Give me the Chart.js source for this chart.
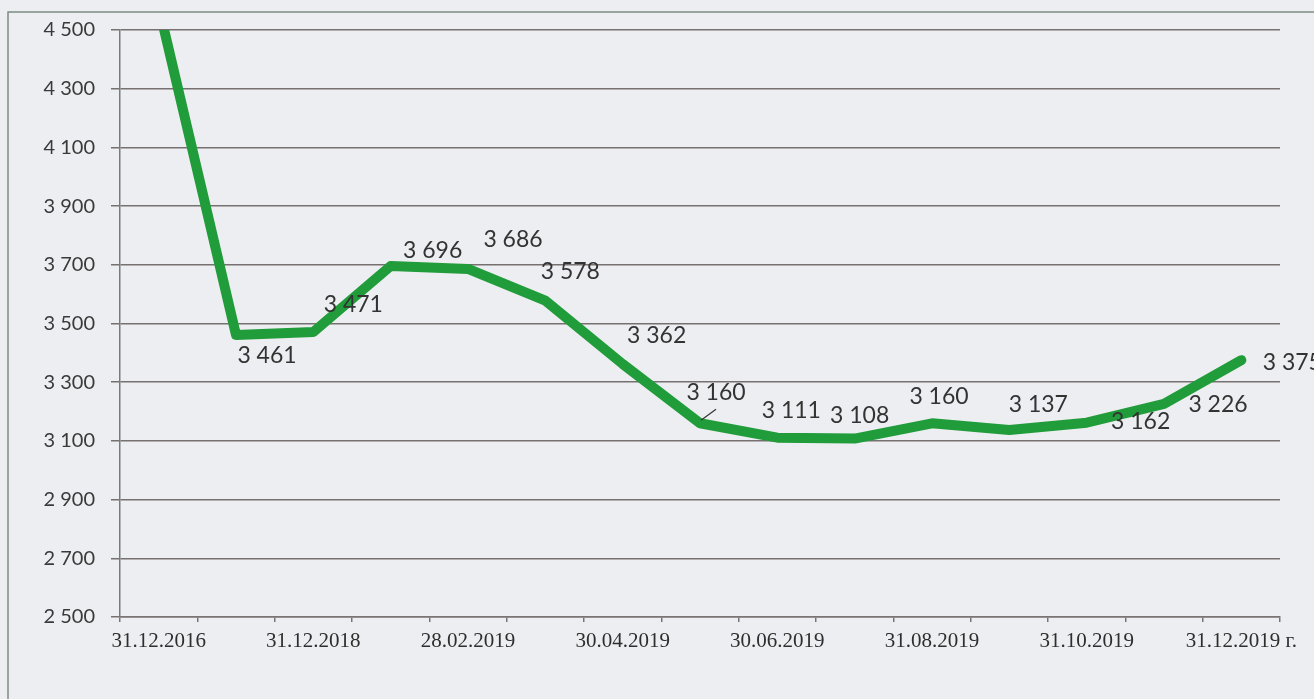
<!DOCTYPE html>
<html>
<head>
<meta charset="utf-8">
<script src="https://cdn.jsdelivr.net/npm/chart.js@4"></script>
<style>
  html, body { margin: 0; padding: 0; background: #eceef1; }
  #wrap { width: 1314px; height: 699px; position: relative; }
</style>
</head>
<body>
<div id="wrap"><canvas id="myChart"></canvas></div>
<script>
var dates = ["31.12.2016", "31.12.2017", "31.12.2018", "31.01.2019", "28.02.2019",
  "31.03.2019", "30.04.2019", "31.05.2019", "30.06.2019", "31.07.2019",
  "31.08.2019", "30.09.2019", "31.10.2019", "30.11.2019", "31.12.2019 г."];
var values = [4580, 3461, 3471, 3696, 3686, 3578, 3362, 3160, 3111, 3108, 3160, 3137, 3162, 3226, 3375];
var yTicks = [2500, 2700, 2900, 3100, 3300, 3500, 3700, 3900, 4100, 4300, 4500];

// where each value label sits, relative to its point (pixels)
var labelShift = [null, [31, 21], [40, -27], [42, -15], [45, -29], [25, -29], [34, -28],
  [16, -31], [14, -27], [5, -23], [7, -27], [29, -25], [54, -1], [54, 1], [51, 2]];

function fmt(v) {
  return String(v).replace(/\B(?=(\d{3})+(?!\d))/g, " ");
}

var frame = {
  id: "frame",
  beforeDraw: function(chart) {
    var ctx = chart.ctx;
    ctx.save();
    ctx.fillStyle = "#eceef1";
    ctx.fillRect(0, 0, chart.width, chart.height);
    ctx.strokeStyle = "#7f8c84";
    ctx.lineWidth = 1.5;
    ctx.beginPath();
    ctx.moveTo(8, chart.height);
    ctx.lineTo(8, 12);
    ctx.lineTo(chart.width, 12);
    ctx.stroke();
    ctx.restore();
  }
};

var valueLabels = {
  id: "valueLabels",
  afterDatasetsDraw: function(chart) {
    var ctx = chart.ctx;
    var pts = chart.getDatasetMeta(0).data;
    ctx.save();
    ctx.font = "23px Lato";
    ctx.fillStyle = "#333333";
    ctx.textAlign = "center";
    ctx.textBaseline = "middle";
    pts.forEach(function(p, i) {
      var s = labelShift[i];
      if (!s) return;
      ctx.fillText(fmt(values[i]), p.x + s[0], p.y + s[1]);
    });
    // small leader line for the 30.06.2019 label
    var p = pts[7];
    ctx.strokeStyle = "#333";
    ctx.lineWidth = 1.2;
    ctx.beginPath();
    ctx.moveTo(p.x + 1, p.y - 3);
    ctx.lineTo(p.x + 16, p.y - 14);
    ctx.stroke();
    ctx.restore();
  }
};

new Chart("myChart", {
  type: "line",
  data: {
    labels: dates,
    datasets: [{
      data: values,
      borderColor: "#219c3a",
      borderWidth: 10,
      borderJoinStyle: "round",
      borderCapStyle: "round",
      pointRadius: 0,
      tension: 0,
      clip: 0
    }]
  },
  options: {
    responsive: true,
    maintainAspectRatio: false,
    animation: false,
    layout: { padding: { left: 0, top: 30, right: 34, bottom: 0 } },
    plugins: {
      legend: { display: false },
      tooltip: { enabled: false }
    },
    scales: {
      x: {
        offset: true,
        afterFit: function(scale) { scale.height = 82; },
        grid: {
          offset: true,
          drawOnChartArea: false,
          drawTicks: true,
          tickLength: 5,
          color: "#7a7474",
          lineWidth: 1.5
        },
        border: { color: "#7a7474", width: 1.5 },
        ticks: {
          autoSkip: false,
          maxRotation: 0,
          padding: 7,
          color: "#2e2e2e",
          font: { family: "'Liberation Serif'", size: 21 },
          callback: function(v, i) { return i % 2 === 0 ? dates[i] : ""; }
        }
      },
      y: {
        min: yTicks[0],
        max: yTicks[yTicks.length - 1],
        afterFit: function(scale) { scale.width = 120; },
        afterBuildTicks: function(scale) {
          scale.ticks = yTicks.map(function(v) { return { value: v }; });
        },
        grid: {
          color: "#777070",
          lineWidth: 1.5,
          tickLength: 9
        },
        border: { color: "#7a7a7a", width: 1.5 },
        ticks: {
          padding: 16,
          color: "#3a3a3a",
          font: { family: "Lato", size: 20 },
          callback: function(v) { return fmt(v); }
        }
      }
    }
  },
  plugins: [frame, valueLabels]
});
</script>
</body>
</html>
